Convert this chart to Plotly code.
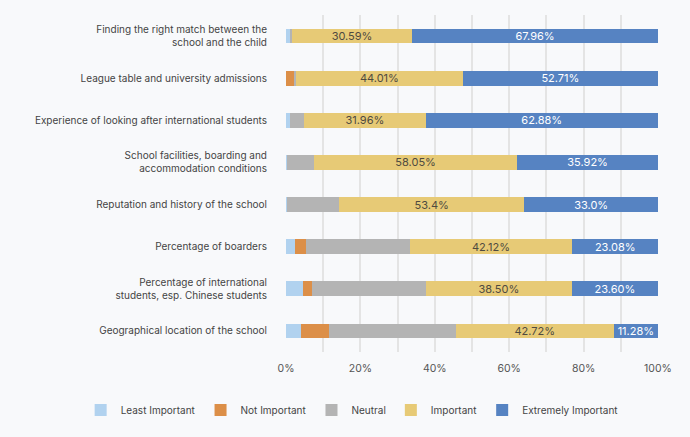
import plotly.graph_objects as go

categories = [
    "Finding the right match between the<br>school and the child",
    "League table and university admissions",
    "Experience of looking after international students",
    "School facilities, boarding and<br>accommodation conditions",
    "Reputation and history of the school",
    "Percentage of boarders",
    "Percentage of international<br>students, esp. Chinese students",
    "Geographical location of the school",
]

# bar widths as drawn (percent)
least_important = [1.1, 0.0, 1.1, 0.35, 0.35, 2.4, 4.7, 4.0]
not_important = [0.0, 2.2, 0.0, 0.0, 0.0, 3.0, 2.3, 7.5]
neutral = [0.5, 0.5, 3.8, 7.2, 13.9, 27.8, 30.6, 34.1]
important = [32.3, 44.8, 32.6, 54.6, 49.8, 43.8, 39.2, 42.5]
extremely_important = [66.1, 52.5, 62.5, 37.85, 35.95, 23.0, 23.2, 11.9]

# printed labels
important_labels = ["30.59%", "44.01%", "31.96%", "58.05%", "53.4%", "42.12%", "38.50%", "42.72%"]
extremely_labels = ["67.96%", "52.71%", "62.88%", "35.92%", "33.0%", "23.08%", "23.60%", "11.28%"]

x_ticks = [0, 20, 40, 60, 80, 100]
x_tick_text = ["0%", "20%", "40%", "60%", "80%", "100%"]

series = [
    ("Least Important", least_important, "#b1d2ef", None, None),
    ("Not Important", not_important, "#dc8f48", None, None),
    ("Neutral", neutral, "#b4b4b4", None, None),
    ("Important", important, "#e7ca76", important_labels, "#4f4a40"),
    ("Extremely Important", extremely_important, "#5683c2", extremely_labels, "#ffffff"),
]

fig = go.Figure()
for name, vals, color, labels, tcolor in series:
    fig.add_trace(go.Bar(
        y=categories, x=vals, name=name, orientation="h",
        marker=dict(color=color, line=dict(width=0)),
        text=labels if labels else None,
        textposition="inside" if labels else "none",
        insidetextanchor="middle",
        constraintext="none",
        textfont=dict(color=tcolor or "#000", size=11, family="Inter"),
        hoverinfo="skip",
    ))

fig.update_layout(
    barmode="stack",
    bargap=0.65,
    width=690, height=437,
    margin=dict(l=286, r=32, t=15, b=85, autoexpand=False),
    paper_bgcolor="#f8f9fb",
    plot_bgcolor="rgba(0,0,0,0)",
    font=dict(family="Inter", size=10, color="#444444"),
    legend=dict(
        orientation="h", xref="paper", x=-0.552, xanchor="left",
        yref="paper", y=-0.172, yanchor="middle",
        font=dict(size=10, color="#444444"),
        itemwidth=30, traceorder="normal",
        bgcolor="rgba(0,0,0,0)",
    ),
    showlegend=True,
)
fig.update_xaxes(
    range=[0, 100], tickvals=x_ticks, ticktext=x_tick_text,
    showgrid=True, gridcolor="#e4e4e4", gridwidth=1.5,
    minor=dict(dtick=10, showgrid=True, gridcolor="#e4e4e4", gridwidth=1.5),
    zeroline=False, showline=False, ticks="", ticklabelstandoff=8,
    tickfont=dict(size=10.5, color="#555555"),
    automargin=False, fixedrange=True,
)
fig.update_yaxes(
    categoryorder="array", categoryarray=categories, autorange="reversed",
    showgrid=False, ticks="", ticklabelstandoff=18,
    tickfont=dict(size=10, color="#444444"),
    automargin=False, fixedrange=True,
)

fig.write_html("out.html", config={"displayModeBar": False},
               post_script="document.body.style.margin='0px';")
